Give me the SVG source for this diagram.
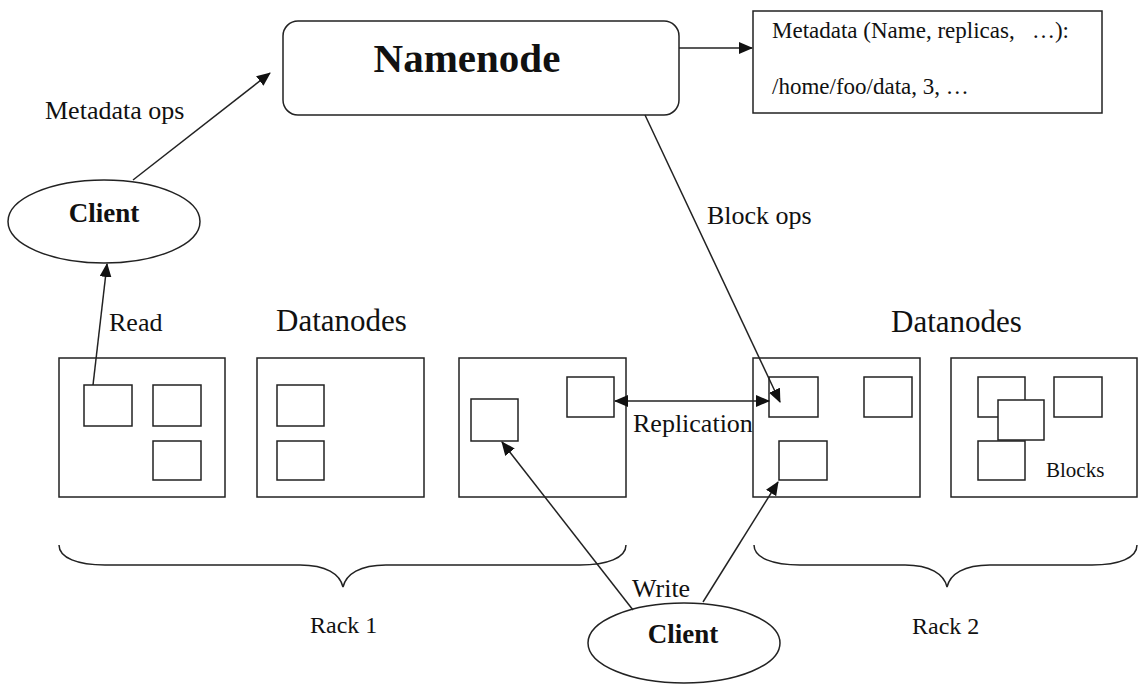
<svg xmlns="http://www.w3.org/2000/svg" width="1139" height="684" viewBox="0 0 1139 684">
<defs>
<marker id="ah" markerUnits="userSpaceOnUse" markerWidth="14" markerHeight="12" viewBox="0 0 14 12" refX="13" refY="6" orient="auto-start-reverse">
<path d="M0,0 L14,6 L0,12 Z" fill="#111"/>
</marker>
<style>
.box{fill:#fff;stroke:#222;stroke-width:1.5}
.blk{fill:#fff;stroke:#222;stroke-width:1.5}
.ln{fill:none;stroke:#222;stroke-width:1.5}
.t{font-family:"Liberation Serif","Times New Roman",serif;fill:#111}
.lbl{font-size:26px}
.dn{font-size:31px}
.b{font-weight:bold}
</style>
</defs>
<rect width="1139" height="684" fill="#fff"/>

<g id="namenode">
<rect class="box" x="283" y="21" width="396" height="94" rx="15"/>
<text class="t b" x="467" y="72" font-size="41" text-anchor="middle">Namenode</text>
</g>

<g id="metadata">
<rect class="box" x="753" y="11" width="349" height="102"/>
<text class="t" x="772" y="38" font-size="23" xml:space="preserve">Metadata (Name, replicas,   …):</text>
<text class="t" x="772" y="94" font-size="23">/home/foo/data, 3, …</text>
</g>

<g id="client1">
<ellipse class="box" cx="104" cy="221.5" rx="96" ry="41.5"/>
<text class="t b" x="104" y="222" font-size="27" text-anchor="middle">Client</text>
</g>

<g id="client2">
<ellipse class="box" cx="684" cy="643" rx="96" ry="40"/>
<text class="t b" x="683" y="643" font-size="27" text-anchor="middle">Client</text>
</g>

<g id="labels">
<text class="t lbl" x="45" y="119">Metadata ops</text>
<text class="t lbl" x="109" y="331">Read</text>
<text class="t lbl" x="707" y="224">Block ops</text>
<text class="t lbl" x="633" y="432">Replication</text>
<text class="t lbl" x="632" y="597">Write</text>
<text class="t dn" x="276" y="331">Datanodes</text>
<text class="t dn" x="891" y="332">Datanodes</text>
<text class="t" x="310" y="633" font-size="24">Rack 1</text>
<text class="t" x="912" y="634" font-size="24">Rack 2</text>
</g>

<g id="datanode1">
<rect class="box" x="59" y="358" width="166" height="139"/>
<rect class="blk" x="84" y="385" width="48" height="41"/>
<rect class="blk" x="153" y="385" width="48" height="41"/>
<rect class="blk" x="153" y="441" width="48" height="39"/>
</g>

<g id="datanode2">
<rect class="box" x="257" y="358" width="167" height="139"/>
<rect class="blk" x="277" y="385" width="47" height="41"/>
<rect class="blk" x="277" y="441" width="47" height="39"/>
</g>

<g id="datanode3">
<rect class="box" x="459" y="358" width="167" height="139"/>
<rect class="blk" x="471" y="399" width="47" height="42"/>
<rect class="blk" x="567" y="377" width="47" height="40"/>
</g>

<g id="datanode4">
<rect class="box" x="753" y="358" width="167" height="139"/>
<rect class="blk" x="769" y="377" width="49" height="40"/>
<rect class="blk" x="864" y="377" width="48" height="40"/>
<rect class="blk" x="779" y="441" width="48" height="39"/>
</g>

<g id="datanode5">
<rect class="box" x="951" y="358" width="186" height="139"/>
<rect class="blk" x="978" y="377" width="47" height="40"/>
<rect class="blk" x="998" y="400" width="46" height="40"/>
<rect class="blk" x="978" y="441" width="47" height="39"/>
<rect class="blk" x="1054" y="377" width="48" height="40"/>
<text class="t" x="1046" y="477" font-size="21">Blocks</text>
</g>

<g id="racks">
<path class="ln" d="M59,545 C59,558 78,565 105,565 L300,565 C326,565 340,574 343,587 C346,574 360,565 386,565 L580,565 C607,565 626,558 626,545"/>
<path class="ln" d="M754,545 C754,558 773,565 800,565 L905,565 C930,565 944,574 947,587 C950,574 964,565 990,565 L1092,565 C1119,565 1137,558 1137,545"/>
</g>

<g id="connectors">
<line class="ln" x1="679" y1="48" x2="752" y2="48" marker-end="url(#ah)"/>
<line class="ln" x1="133" y1="180" x2="270" y2="73" marker-end="url(#ah)"/>
<line class="ln" x1="93" y1="385" x2="107" y2="264" marker-end="url(#ah)"/>
<line class="ln" x1="645" y1="115" x2="780" y2="402" marker-end="url(#ah)"/>
<line class="ln" x1="615" y1="401" x2="769" y2="401" marker-start="url(#ah)" marker-end="url(#ah)"/>
<line class="ln" x1="633" y1="610" x2="502" y2="442" marker-end="url(#ah)"/>
<line class="ln" x1="703" y1="602" x2="778" y2="482" marker-end="url(#ah)"/>
</g>
</svg>
